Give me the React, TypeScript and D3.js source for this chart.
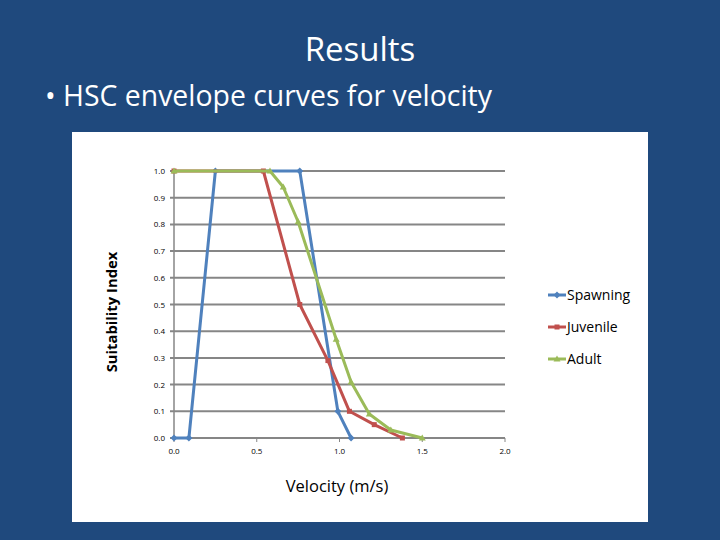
import React from "react";
import * as d3 from "d3";

const spawnX = [0, 0.09, 0.25, 0.76, 0.99, 1.07];
const spawnY = [0, 0, 1.0, 1.0, 0.1, 0];
const juvX = [0, 0.54, 0.76, 0.93, 1.06, 1.21, 1.38];
const juvY = [1.0, 1.0, 0.5, 0.29, 0.1, 0.05, 0];
const adultX = [0, 0.58, 0.66, 0.75, 0.98, 1.07, 1.18, 1.31, 1.5];
const adultY = [1.0, 1.0, 0.94, 0.81, 0.37, 0.21, 0.09, 0.03, 0];
const seriesNames = ["Spawning", "Juvenile", "Adult"];
const seriesColors = ["#4F81BD", "#C0504D", "#9BBB59"];
const xTicks = [0, 0.5, 1.0, 1.5, 2.0];
const yTicks = [0, 0.1, 0.2, 0.3, 0.4, 0.5, 0.6, 0.7, 0.8, 0.9, 1.0];

export default function App() {
  const x = d3.scaleLinear().domain([0, 2]).range([174, 505]);
  const y = d3.scaleLinear().domain([0, 1]).range([438, 171]);
  const series = [
    spawnX.map((v, i) => [v, spawnY[i]]),
    juvX.map((v, i) => [v, juvY[i]]),
    adultX.map((v, i) => [v, adultY[i]]),
  ] as [number, number][][];
  const line = d3.line<[number, number]>().x((d) => x(d[0])).y((d) => y(d[1]));
  const font = "'Open Sans', 'DejaVu Sans', sans-serif";
  const marker = (k: number, cx: number, cy: number, c: string, key: string) => {
    if (k === 0) return <path key={key} d={`M${cx},${cy - 3.5}L${cx + 3.5},${cy}L${cx},${cy + 3.5}L${cx - 3.5},${cy}Z`} fill={c} />;
    if (k === 1) return <rect key={key} x={cx - 2.5} y={cy - 2.5} width={5} height={5} fill={c} />;
    return <path key={key} d={`M${cx},${cy - 3.5}L${cx + 3.5},${cy + 2.5}L${cx - 3.5},${cy + 2.5}Z`} fill={c} />;
  };
  return (
    <svg width={720} height={540} style={{ position: "absolute", left: 0, top: 0 }}>
      <rect x={0} y={0} width={720} height={540} fill="#1F497D" />
      <text x={360} y={61} textAnchor="middle" fill="#fff" fontSize={33} fontFamily={font}>Results</text>
      <text x={45} y={106} fill="#fff" fontSize={28.4} fontFamily={font}>• HSC envelope curves for velocity</text>
      <rect x={72} y={132} width={576} height={390} fill="#fff" />
      {yTicks.map((t) => (
        <g key={"y" + t}>
          <line x1={170} x2={505} y1={y(t)} y2={y(t)} stroke="#868686" strokeWidth={2} />
          <text x={165} y={y(t) + 3} textAnchor="end" fontSize={8} fill="#000" fontFamily={font}>{t.toFixed(1)}</text>
        </g>
      ))}
      <line x1={174} x2={174} y1={171} y2={438} stroke="#868686" strokeWidth={1.5} />
      {xTicks.map((t) => (
        <g key={"x" + t}>
          <line x1={x(t)} x2={x(t)} y1={438} y2={442} stroke="#868686" strokeWidth={1} />
          <text x={x(t)} y={454} textAnchor="middle" fontSize={8} fill="#000" fontFamily={font}>{t.toFixed(1)}</text>
        </g>
      ))}
      {series.map((s, k) => (
        <g key={"s" + k}>
          <path d={line(s) || ""} fill="none" stroke={seriesColors[k]} strokeWidth={3} strokeLinejoin="round" />
          {s.map((d, i) => marker(k, x(d[0]), y(d[1]), seriesColors[k], `m${k}-${i}`))}
        </g>
      ))}
      <text transform="translate(117,312) rotate(-90)" textAnchor="middle" fontSize={14.8} fontWeight="bold" fill="#000" fontFamily={font}>Suitability Index</text>
      <text x={337} y={492} textAnchor="middle" fontSize={16.5} fill="#000" fontFamily={font}>Velocity (m/s)</text>
      {seriesNames.map((n, k) => (
        <g key={"l" + k}>
          <line x1={548} x2={566} y1={295 + k * 32} y2={295 + k * 32} stroke={seriesColors[k]} strokeWidth={3} />
          {marker(k, 557, 295 + k * 32, seriesColors[k], "lm" + k)}
          <text x={567} y={300 + k * 32} fontSize={14} fill="#000" fontFamily={font}>{n}</text>
        </g>
      ))}
    </svg>
  );
}
